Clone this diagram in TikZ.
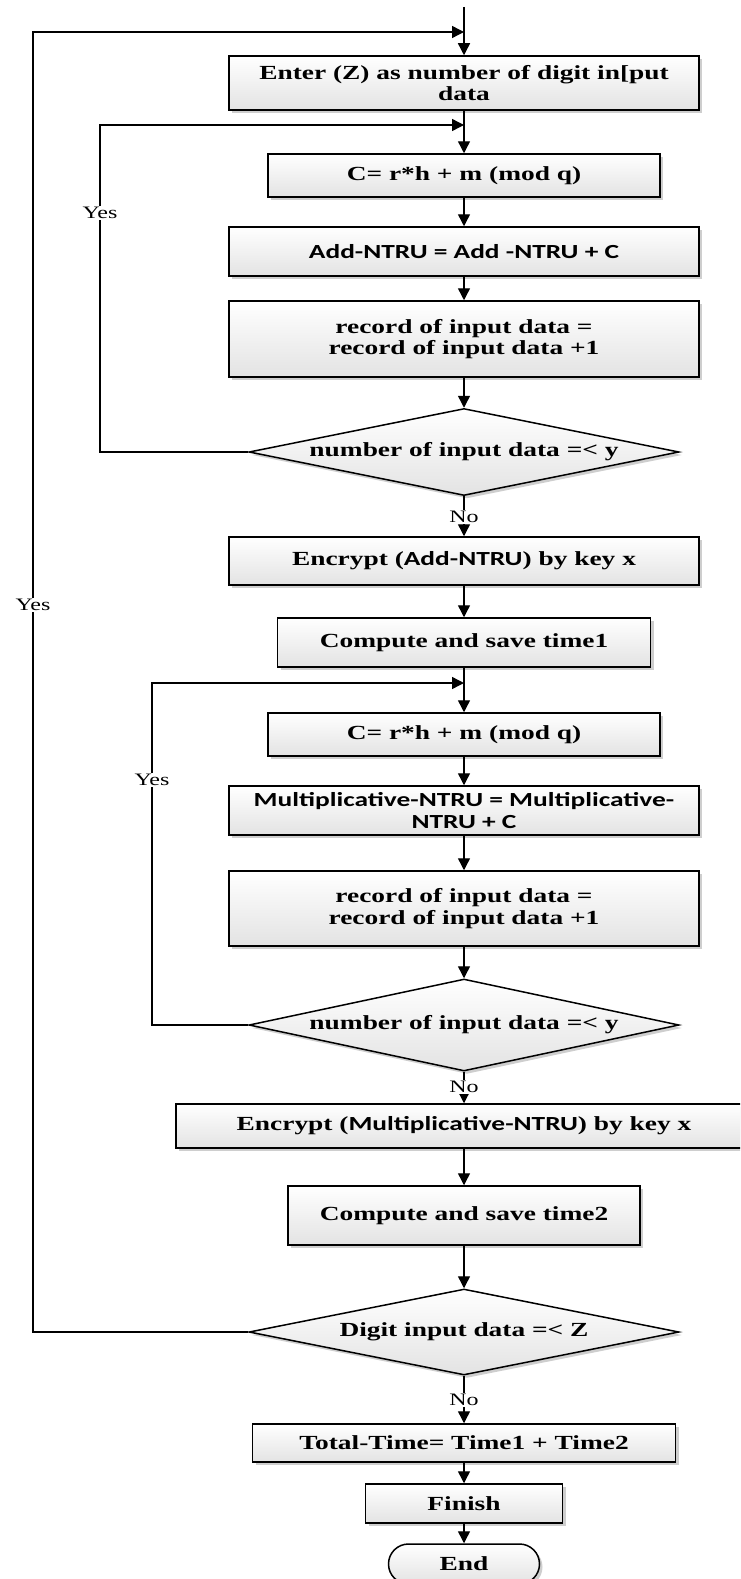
\documentclass[tikz,border=0pt]{standalone}
\usepackage{fontspec}
\setmainfont{Liberation Serif}[FakeStretch=1.37]
\newfontfamily\calibfont{Carlito}[FakeStretch=1.37]
\newcommand\calib[1]{{\calibfont\bfseries #1}}
\usetikzlibrary{arrows.meta,shapes.geometric,shadows}

\tikzset{
  base/.style={draw=black, line width=1.5pt, top color=white, bottom color=black!11,
    drop shadow={shadow xshift=3pt, shadow yshift=-3pt, opacity=0.35, fill=black!55},
    font=\fontsize{20}{21.5}\selectfont\bfseries, align=center, inner sep=0pt},
  box/.style={base, rectangle},
  dia/.style={base, diamond, aspect=4.9},
  term/.style={base, rectangle, rounded corners=20pt},
  arr/.style={line width=1.4pt, -{Triangle[length=12pt,width=12pt]}},
  lbl/.style={fill=white, inner sep=1pt, font=\fontsize{17.5}{19}\selectfont}
}

\begin{document}
\begin{tikzpicture}[x=1pt, y=-1pt]
\useasboundingbox (0,0) rectangle (740,1579);
\clip (0,0) rectangle (740,1579);

% process steps
\node[box, minimum width=470pt, minimum height=54pt] (b1) at (464,83)
  {Enter (Z) as number of digit in[put\\data};
\node[box, minimum width=392pt, minimum height=43pt] (b2) at (464,175.5)
  {C= r*h + m (mod q)};
\node[box, minimum width=470pt, minimum height=49pt] (b3) at (464,251.5)
  {\calib{Add-NTRU = Add -NTRU + C}};
\node[box, minimum width=470pt, minimum height=76pt] (b4) at (464,339)
  {record of input data =\\record of input data +1};
\node[dia, minimum width=430pt, minimum height=87pt] (d1) at (464,452)
  {number of input data =< y};
\node[box, minimum width=470pt, minimum height=48pt] (b5) at (464,561)
  {Encrypt (\calib{Add-NTRU}) by key x};
\node[box, minimum width=373pt, minimum height=49pt] (b6) at (464,642.5)
  {Compute and save time1};
\node[box, minimum width=392pt, minimum height=43pt] (b7) at (464,734.5)
  {C= r*h + m (mod q)};
\node[box, minimum width=470pt, minimum height=49pt] (b8) at (464,810.5)
  {\calib{Multiplicative-NTRU = Multiplicative-}\\\calib{NTRU + C}};
\node[box, minimum width=470pt, minimum height=75pt] (b9) at (464,908.5)
  {record of input data =\\record of input data +1};
\node[dia, minimum width=430pt, minimum height=92pt] (d2) at (464,1025)
  {number of input data =< y};
\node[box, minimum width=576pt, minimum height=44pt] (b10) at (464,1126)
  {Encrypt (\calib{Multiplicative-NTRU}) by key x};
\node[box, minimum width=352pt, minimum height=59pt] (b11) at (464,1215.5)
  {Compute and save time2};
\node[dia, minimum width=430pt, minimum height=86pt] (d3) at (464,1332)
  {Digit input data =< Z};
\node[box, minimum width=423pt, minimum height=38pt] (b12) at (464,1443)
  {Total-Time= Time1 + Time2};
\node[box, minimum width=197pt, minimum height=39pt] (b13) at (464,1503.5)
  {Finish};
\node[term, minimum width=151pt, minimum height=40pt] (stop) at (464,1564)
  {End};

% main flow
\coordinate (top) at (464,7);
\draw[arr] (top) -- (b1);
\draw[arr] (b1) -- (b2);
\draw[arr] (b2) -- (b3);
\draw[arr] (b3) -- (b4);
\draw[arr] (b4) -- (d1);
\draw[arr] (d1) -- (b5);
\draw[arr] (b5) -- (b6);
\draw[arr] (b6) -- (b7);
\draw[arr] (b7) -- (b8);
\draw[arr] (b8) -- (b9);
\draw[arr] (b9) -- (d2);
\draw[arr] (d2) -- (b10);
\draw[arr] (b10) -- (b11);
\draw[arr] (b11) -- (d3);
\draw[arr] (d3) -- (b12);
\draw[arr] (b12) -- (b13);
\draw[arr] (b13) -- (stop);

% outer loop over digits
\coordinate (oc) at (33,32);
\coordinate (oj) at (464,32);
\draw[arr] (d3.west) -- (d3.west -| oc) -- (oc) -- (oj);

% first inner loop
\coordinate (ac) at (100,125);
\coordinate (aj) at (464,125);
\draw[arr] (d1.west) -- (d1.west -| ac) -- (ac) -- (aj);

% second inner loop
\coordinate (mc) at (152,683);
\coordinate (mj) at (464,683);
\draw[arr] (d2.west) -- (d2.west -| mc) -- (mc) -- (mj);

% branch labels
\node[lbl] at (33,605) {Yes};
\node[lbl] at (100,213) {Yes};
\node[lbl] at (152,780) {Yes};
\node[lbl] at (464,517) {No};
\node[lbl] at (464,1087) {No};
\node[lbl] at (464,1400) {No};
\end{tikzpicture}
\end{document}
